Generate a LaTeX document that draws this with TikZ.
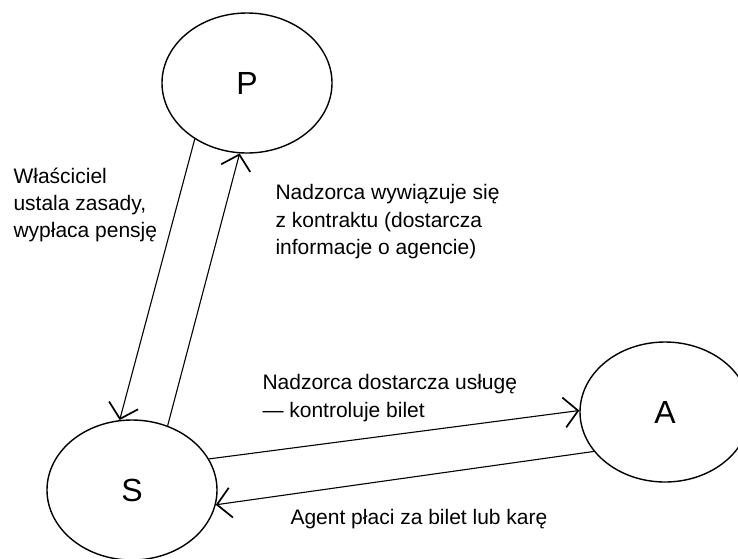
\documentclass[tikz,border=0pt]{standalone}
\usepackage{fontspec}
\setmainfont{Liberation Sans}
\usetikzlibrary{arrows.meta,positioning,shapes}

\begin{document}
\begin{tikzpicture}[x=1pt,y=-1pt,->,>={Straight Barb[length=14pt,width=30pt,line width=1.7pt]},
	line width=1.1pt,
	main node/.style={ellipse,draw,inner sep=0pt,line width=1.4pt,
		minimum width=170pt,minimum height=140pt,font=\fontsize{32}{38}\selectfont},
	note/.style={inner sep=0pt,align=left,anchor=north west,font=\fontsize{21}{27.3}\selectfont}]

	\useasboundingbox (0,0) rectangle (738,558);

	\node[main node] (P) at (247,83) {P};
	\node[main node] (S) at (132,490) {S};
	\node[main node] (A) at (665,412) {A};

	\node[note] (owner) at (13,167) {Właściciel\\ustala zasady,\\wypłaca pensję};
	\node[note] (report) at (275,184) {Nadzorca wywiązuje się\\z kontraktu (dostarcza\\informacje o agencie)};
	\node[note] (service) at (262,374) {Nadzorca dostarcza usługę\\— kontroluje bilet};
	\node[note] (pay) at (290,509) {Agent płaci za bilet lub karę};

	\path
	(P.227) edge (S.100)
	(S.61) edge (P.264)
	(S.22) edge (A.179)
	(A.209) edge (S.350);

\end{tikzpicture}
\end{document}
